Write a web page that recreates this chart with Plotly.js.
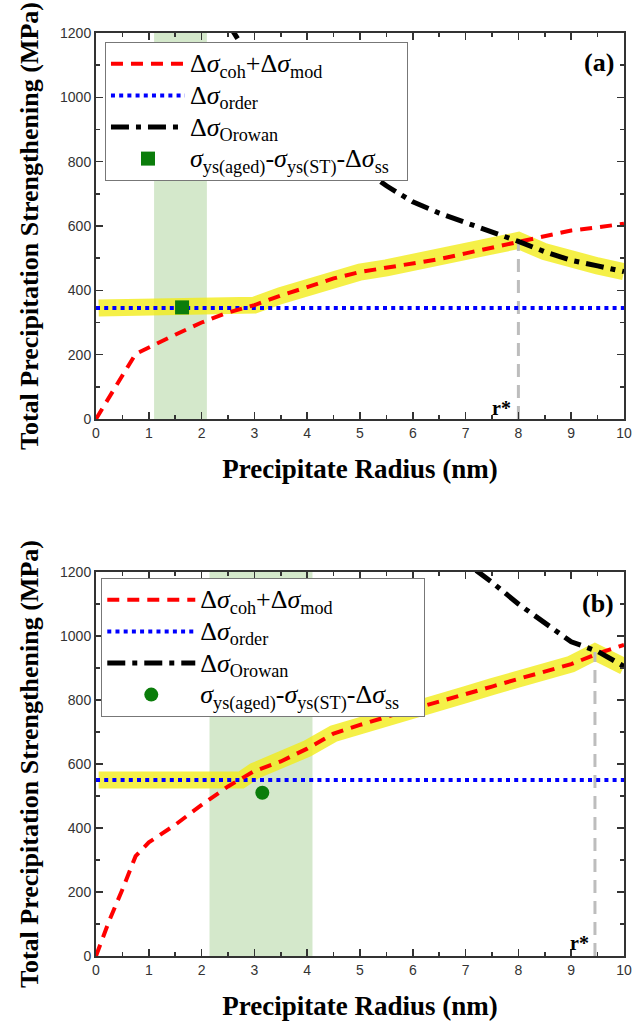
<!DOCTYPE html>
<html>
<head>
<meta charset="utf-8">
<script src="https://cdn.plot.ly/plotly-3.0.1.min.js"></script>
<style>
html,body{margin:0;padding:0;background:#fff;}
#chart{width:640px;height:1021px;}
</style>
</head>
<body>
<div id="chart"></div>
<script>
// ---------- data ----------
const radius = [0,0.25,0.5,0.75,1,1.5,2,2.5,3,3.5,4,4.5,5,5.5,6,6.5,7,7.5,8,8.5,9,9.5,10];
const cohModA = [0,70,135,202,223,262,300,331,354,384,410,437,457,470,485,497,515,533,550,571,586,596,607];
const cohModB = [0,110,208,312,355,410,472,530,578,608,648,695,722,748,772,795,817,842,866,888,912,945,972];

const orderX = [0,10];
const orderA = [345,345];
const orderB = [550,550];

const orowanXA = [2.5,3,3.5,4,4.5,5,5.5,6,6.5,7,7.5,8,8.5,9,9.5,10];
const orowanA  = [1230,1100,1000,920,850,785,725,675,640,612,583,552,520,493,476,458];
const orowanXB = [7.2,7.5,8,8.5,9,9.5,10];
const orowanB  = [1205,1168,1100,1040,982,952,905];

const envXA = [0.05,2.75,3,3.5,4,4.5,5,5.5,6,6.5,7,7.5,8,8.5,9,9.5,10];
const envA  = [345,345,354,384,410,437,457,470,485,497,515,533,555,520,493,476,458];
const envXB = [0.05,2.75,3,3.5,4,4.5,5,5.5,6,6.5,7,7.5,8,8.5,9,9.45,10];
const envB  = [550,550,578,608,648,695,722,748,772,795,817,842,866,888,912,950,905];

const expXA = [1.63], expA = [347];
const expXB = [3.15], expB = [510];

const bandA = [1.1, 2.1];
const bandB = [2.15, 4.1];

const rStarA = 8,    rStarValA = 550;
const rStarB = 9.45, rStarValB = 950;

const xTickVals = [0,1,2,3,4,5,6,7,8,9,10];
const yTickVals = [0,200,400,600,800,1000,1200];

// ---------- styling ----------
const serif = '"Times New Roman", "Liberation Serif", Times, serif';
const sans = '"Liberation Sans", Arial, sans-serif';
const yellow = 'rgba(242,236,20,0.78)';
const green = '#0b7d0b';

const big = s => '<span style="font-size:26px">' + s + '</span>';
const nameCoh = big('Δ<i>σ</i><sub>coh</sub>+Δ<i>σ</i><sub>mod</sub>');
const nameOrd = big('Δ<i>σ</i><sub>order</sub>');
const nameOro = big('Δ<i>σ</i><sub>Orowan</sub>');
const expText = '<i>σ</i><sub>ys(aged)</sub>-<i>σ</i><sub>ys(ST)</sub>-Δ<i>σ</i><sub>ss</sub>';
const nameExpA = big(expText + '&nbsp;&nbsp;');
const nameExpB = big(expText + '&nbsp;&nbsp;&nbsp;');

function panel(xa, ya, leg, coh, ord, oroX, oro, envX, env, ex, ey, sym, rs, rsv, expName) {
  return [
    {x: envX, y: env, xaxis: xa, yaxis: ya, mode: 'lines', showlegend: false,
     line: {color: yellow, width: 17}, hoverinfo: 'skip'},
    {x: [rs, rs], y: [0, rsv], xaxis: xa, yaxis: ya, mode: 'lines', showlegend: false,
     line: {color: '#bdbdbd', width: 3, dash: '13px,8px'}},
    {x: orderX, y: ord, xaxis: xa, yaxis: ya, mode: 'lines', name: nameOrd, legend: leg, legendrank: 2,
     line: {color: '#0000ff', width: 4, dash: '4px,4.2px'}},
    {x: radius, y: coh, xaxis: xa, yaxis: ya, mode: 'lines', name: nameCoh, legend: leg, legendrank: 1,
     line: {color: '#ff0000', width: 4, dash: '12px,8px'}},
    {x: oroX, y: oro, xaxis: xa, yaxis: ya, mode: 'lines', name: nameOro, legend: leg, legendrank: 3,
     line: {color: '#000000', width: 5, dash: '18px,7px,5px,7px'}},
    {x: ex, y: ey, xaxis: xa, yaxis: ya, mode: 'markers', name: expName, legend: leg, legendrank: 4,
     marker: {color: green, size: 14, symbol: sym, line: {width: 0}}}
  ];
}

const data = [].concat(
  panel('x', 'y', 'legend', cohModA, orderA, orowanXA, orowanA, envXA, envA, expXA, expA, 'square', rStarA, rStarValA, nameExpA),
  panel('x2', 'y2', 'legend2', cohModB, orderB, orowanXB, orowanB, envXB, envB, expXB, expB, 'circle', rStarB, rStarValB, nameExpB)
);

function xAxis(anchor) {
  return {
    anchor: anchor, domain: [0, 1], range: [0, 10], tickvals: xTickVals,
    ticks: 'inside', ticklen: 7, tickwidth: 1.5, tickcolor: '#333',
    minor: {dtick: 0.5, ticks: 'inside', ticklen: 4, tickwidth: 1.5, tickcolor: '#333'},
    showline: true, linecolor: '#333', linewidth: 2, mirror: 'allticks',
    showgrid: false, zeroline: false,
    tickfont: {family: sans, size: 14, color: '#333'},
    title: {text: '<b>Precipitate Radius (nm)</b>', font: {family: serif, size: 27, color: '#000'}, standoff: 19}
  };
}
function yAxis(anchor, dom) {
  return {
    anchor: anchor, domain: dom, range: [0, 1200], tickvals: yTickVals,
    ticks: 'inside', ticklen: 7, tickwidth: 1.5, tickcolor: '#333',
    minor: {dtick: 100, ticks: 'inside', ticklen: 4, tickwidth: 1.5, tickcolor: '#333'},
    showline: true, linecolor: '#333', linewidth: 2, mirror: 'allticks',
    showgrid: false, zeroline: false,
    tickfont: {family: sans, size: 14, color: '#333'},
    title: {text: '<b>Total Precipitation Strengthening (MPa)</b>', font: {family: serif, size: 26, color: '#000'}, standoff: 14}
  };
}
function legendBox(x, y, iw) {
  return {
    x: x, y: y, xref: 'paper', yref: 'paper', xanchor: 'left', yanchor: 'top',
    bgcolor: '#ffffff', bordercolor: '#777', borderwidth: 1,
    font: {family: serif, size: 22, color: '#000'},
    itemwidth: iw, traceorder: 'normal', tracegroupgap: 0
  };
}

const H = 1021, T = 33, B = 65;
const ph = H - T - B;
const frac = px => (H - B - px) / ph;

const layout = {
  width: 640, height: 1021,
  margin: {l: 96, r: 16, t: T, b: B},
  paper_bgcolor: '#fff', plot_bgcolor: 'rgba(0,0,0,0)',
  showlegend: true,
  xaxis: xAxis('y'),
  yaxis: yAxis('x', [frac(419), 1]),
  xaxis2: xAxis('y2'),
  yaxis2: yAxis('x2', [0, frac(572)]),
  legend: legendBox(0.017, frac(42), 74),
  legend2: legendBox(0.01, frac(578), 88),
  shapes: [
    {type: 'rect', xref: 'x', yref: 'y domain', x0: bandA[0], x1: bandA[1], y0: 0, y1: 1,
     fillcolor: '#d4e8cb', line: {width: 0}, layer: 'below'},
    {type: 'rect', xref: 'x2', yref: 'y2 domain', x0: bandB[0], x1: bandB[1], y0: 0, y1: 1,
     fillcolor: '#d4e8cb', line: {width: 0}, layer: 'below'}
  ],
  annotations: [
    {text: '<b>(a)</b>', xref: 'x', yref: 'y', x: 9.85, y: 1107, xanchor: 'right', yanchor: 'middle', showarrow: false,
     font: {family: serif, size: 26, color: '#000'}},
    {text: '<b>(b)</b>', xref: 'x2', yref: 'y2', x: 9.85, y: 1102, xanchor: 'right', yanchor: 'middle', showarrow: false,
     font: {family: serif, size: 26, color: '#000'}},
    {text: '<b>r*</b>', xref: 'x', yref: 'y', x: 7.9, y: 34, xanchor: 'right', yanchor: 'middle', showarrow: false,
     font: {family: serif, size: 20, color: '#000'}},
    {text: '<b>r*</b>', xref: 'x2', yref: 'y2', x: 9.38, y: 40, xanchor: 'right', yanchor: 'middle', showarrow: false,
     font: {family: serif, size: 20, color: '#000'}}
  ]
};

Plotly.newPlot('chart', data, layout, {displayModeBar: false, staticPlot: true});
</script>
</body>
</html>
